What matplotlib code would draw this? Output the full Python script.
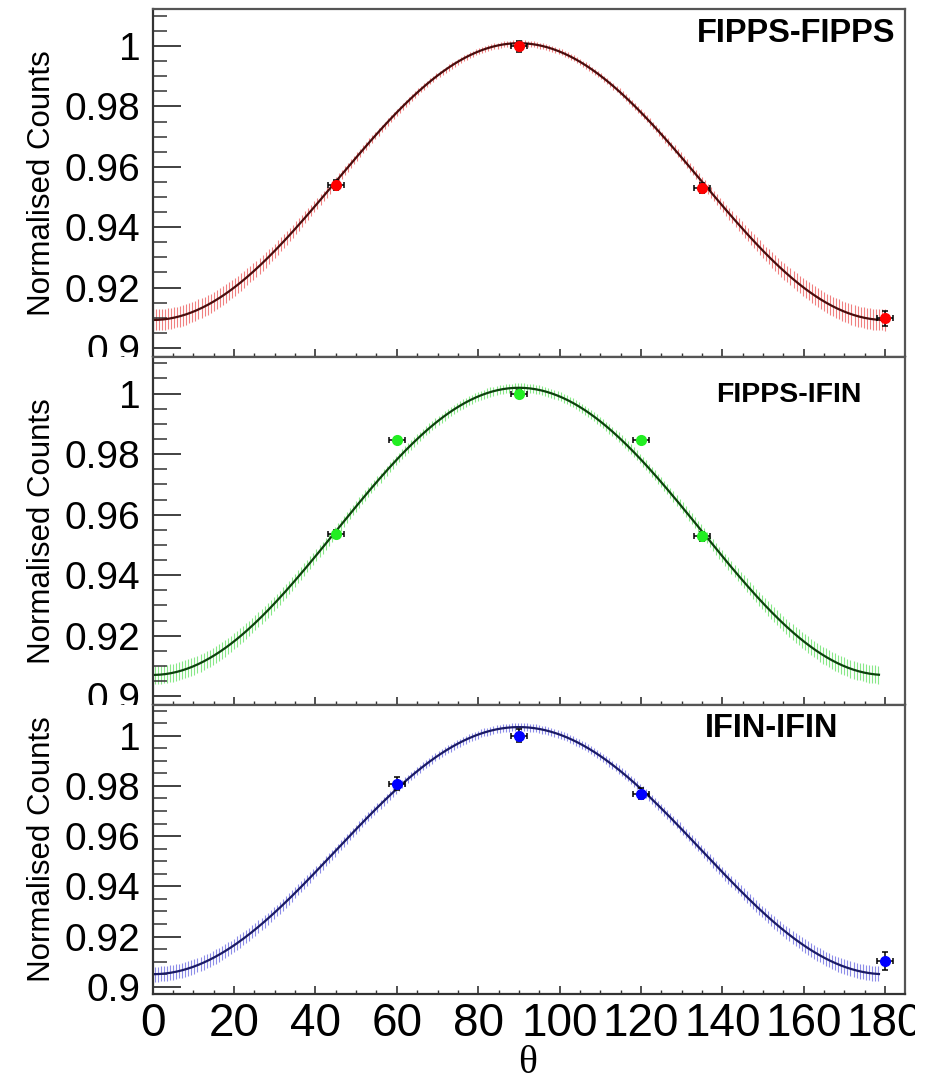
import numpy as np
import matplotlib
matplotlib.use("Agg")
import matplotlib.pyplot as plt
from matplotlib.patches import Rectangle
from matplotlib.ticker import MultipleLocator

plt.rcParams['font.family'] = ['Liberation Sans', 'DejaVu Sans']

# ---------------- data ----------------
panel_titles = ['FIPPS-FIPPS', 'FIPPS-IFIN', 'IFIN-IFIN']

angles_ff = [45, 90, 135, 180]
counts_ff = [0.9540, 1.0000, 0.9530, 0.9098]
yerr_ff = [0.0017, 0.0018, 0.0015, 0.0025]

angles_fi = [45, 60, 90, 120, 135]
counts_fi = [0.9537, 0.9848, 1.0000, 0.9848, 0.9528]
yerr_fi = [0.0013, 0.0010, 0.0012, 0.0010, 0.0015]

angles_ii = [60, 90, 120, 180]
counts_ii = [0.9809, 1.0000, 0.9768, 0.9102]
yerr_ii = [0.0025, 0.0025, 0.0022, 0.0035]

angle_err = 2.0

# fit W(theta) = a0 * (1 + a2 P2(cos) + a4 P4(cos))
fit_ff = [0.9704, -0.0630, 0.0]
fit_fi = [0.9703, -0.0652, 0.0]
fit_ii = [0.9706, -0.0676, 0.0]
# confidence band half-width at 0/180 deg and at 90 deg
band_ff = [0.0035, 0.0010]
band_fi = [0.0030, 0.0015]
band_ii = [0.0030, 0.0016]
fit_range_ff = [0.0, 180.0]
fit_range_fi = [0.5, 178.5]
fit_range_ii = [0.5, 178.5]

xticks = [0, 20, 40, 60, 80, 100, 120, 140, 160, 180]
xtick_labels = ['0', '20', '40', '60', '80', '100', '120', '140', '160', '180']
yticks = [0.90, 0.92, 0.94, 0.96, 0.98, 1.00]
ytick_labels = ['0.9', '0.92', '0.94', '0.96', '0.98', '1']

# ---------------- styling ----------------
point_colors = ['#ff0000', '#22ee22', '#0000ff']
band_colors = ['#f08080', '#88e888', '#8c8ce8']
line_colors = ['#4a0c0c', '#0c420c', '#1a1a66']

W, H = 928, 1082
fig = plt.figure(figsize=(W / 100, H / 100), dpi=100)
fig.patch.set_facecolor('white')


def frect(left, top, right, bottom):
    return [left / W, 1 - bottom / H, (right - left) / W, (bottom - top) / H]


ax_left, ax_right = 152.7, 905.0
panel_px = [(9.3, 356.7), (356.7, 705.0), (705.0, 994.0)]

datasets = [
    (angles_ff, counts_ff, yerr_ff, fit_ff, band_ff, fit_range_ff),
    (angles_fi, counts_fi, yerr_fi, fit_fi, band_fi, fit_range_fi),
    (angles_ii, counts_ii, yerr_ii, fit_ii, band_ii, fit_range_ii),
]

title_pos = [(895, 42), (862, 402), (838, 737)]
title_size = [23.5, 20.5, 23.5]


def legendre_fit(theta_deg, p):
    c = np.cos(np.radians(theta_deg))
    p2 = 0.5 * (3 * c ** 2 - 1)
    p4 = (35 * c ** 4 - 30 * c ** 2 + 3) / 8
    return p[0] * (1 + p[1] * p2 + p[2] * p4)


for i, (top, bot) in enumerate(panel_px):
    if i > 0:
        # pad background (like ROOT pads) hiding the previous panel's overflow
        fig.add_artist(Rectangle((0, 0), 1, 1 - top / H, transform=fig.transFigure,
                                 facecolor='white', edgecolor='none', zorder=i + 0.5))
    ax = fig.add_axes(frect(ax_left, top, ax_right, bot))
    ax.set_zorder(i + 1)
    ax.set_facecolor('white')
    ang, cnt, yerr, fit, band, frange = datasets[i]

    th = np.arange(frange[0], frange[1] + 0.01, 0.75)
    yfit = legendre_fit(th, fit)
    hw = band[1] + (band[0] - band[1]) * np.cos(np.radians(th)) ** 4
    ax.vlines(th, yfit - hw, yfit + hw, color=band_colors[i], lw=0.8, zorder=1)
    thl = np.linspace(frange[0], frange[1], 400)
    ax.plot(thl, legendre_fit(thl, fit), color=line_colors[i], lw=1.6, zorder=2)

    ax.errorbar(ang, cnt, xerr=angle_err, yerr=yerr, fmt='o', color=point_colors[i],
                mec=point_colors[i], ms=7, ecolor='black', elinewidth=1.1,
                capsize=2, capthick=1.1, zorder=5)

    ax.set_xlim(0, 184.9)
    ax.set_ylim(0.8971, 1.0122)
    ax.set_xticks(xticks)
    ax.set_yticks(yticks)
    ax.set_yticklabels(ytick_labels)
    ax.xaxis.set_minor_locator(MultipleLocator(5))
    ax.yaxis.set_minor_locator(MultipleLocator(0.005))
    ax.tick_params(axis='y', which='major', direction='in', length=20, width=1.3,
                   labelsize=28, pad=9, color='#333333', right=False)
    ax.tick_params(axis='y', which='minor', direction='in', length=10, width=1.1,
                   color='#333333', right=False)
    ax.tick_params(axis='x', which='major', direction='in', length=6, width=1.2,
                   labelsize=33, pad=6, color='#333333', top=False)
    ax.tick_params(axis='x', which='minor', direction='in', length=3, width=1.0,
                   color='#333333', top=False)
    if i < 2:
        ax.tick_params(axis='x', which='both', labelbottom=False)
    else:
        ax.set_xticklabels(xtick_labels)
    for s in ['top', 'right']:
        ax.spines[s].set_color('#555555')
        ax.spines[s].set_linewidth(1.6)
    for s in ['left', 'bottom']:
        ax.spines[s].set_color('#333333')
        ax.spines[s].set_linewidth(1.6)

    fig.text(42 / W, 1 - ((top + bot) / 2) / H, 'Normalised Counts', rotation=90,
             ha='center', va='center', fontsize=22.5, zorder=20)
    tx, ty = title_pos[i]
    fig.text(tx / W, 1 - ty / H, panel_titles[i], ha='right', va='baseline',
             fontsize=title_size[i], fontweight='bold', zorder=20)

# clip the last x tick label at the canvas edge as in the original
fig.add_artist(Rectangle((915 / W, 0), 1, 1 - 995 / H, transform=fig.transFigure,
                         facecolor='white', edgecolor='none', zorder=10))

fig.text(528 / W, 1 - 1073 / H, 'θ', ha='center', va='baseline', fontsize=28.5,
         family=['Liberation Serif', 'DejaVu Serif'], zorder=20)

fig.savefig('out.png', dpi=100, facecolor='white')
